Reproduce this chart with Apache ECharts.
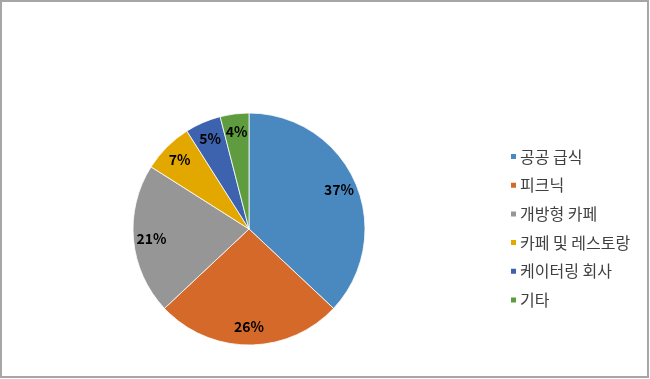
<!DOCTYPE html>
<html>
<head>
<meta charset="utf-8">
<script src="https://cdn.jsdelivr.net/npm/echarts@6/dist/echarts.min.js"></script>
<style>
html,body{margin:0;padding:0;background:#fff;}
#c{width:650px;height:379px;}
</style>
</head>
<body>
<div id="c"></div>
<script>
const categories = ['공공 급식', '피크닉', '개방형 카페', '카페 및 레스토랑', '케이터링 회사', '기타'];
const values = [37, 26, 21, 7, 5, 4];
const colors = ['#4a89c0', '#d4692a', '#969696', '#e3a800', '#3d62ae', '#5e9c3f'];

const data = categories.map((n, i) => ({ name: n, value: values[i] }));
const chart = echarts.init(document.getElementById('c'));
chart.setOption({
  animation: false,
  color: colors,
  graphic: [{
    type: 'rect',
    shape: { x: 1, y: 1, width: 647, height: 376 },
    style: { fill: 'none', stroke: '#a6a6a6', lineWidth: 2 },
    silent: true
  }],
  legend: {
    orient: 'vertical',
    left: 504,
    top: 143,
    itemWidth: 7,
    itemHeight: 7,
    itemGap: 11.7,
    icon: 'rect',
    data: categories,
    textStyle: { fontFamily: 'Noto Sans CJK KR', fontSize: 16, lineHeight: 17, color: '#404040', padding: [0, 0, 0, -2] }
  },
  series: [{
    type: 'pie',
    center: [249, 229],
    radius: [0, 116],
    startAngle: 90,
    clockwise: true,
    data: data,
    label: { show: false },
    labelLine: { show: false },
    itemStyle: { borderColor: '#fff', borderWidth: 0.8 },
    emphasis: { disabled: true },
    silent: true
  }, {
    type: 'pie',
    center: [249, 229],
    radius: [74, 116],
    startAngle: 90,
    clockwise: true,
    data: data,
    itemStyle: { color: 'rgba(0,0,0,0)' },
    label: {
      show: true,
      position: 'inside',
      formatter: '{c}%',
      fontFamily: 'Noto Sans CJK KR',
      fontWeight: 'bold',
      fontSize: 14,
      color: '#000'
    },
    labelLine: { show: false },
    emphasis: { disabled: true },
    silent: true,
    legendHoverLink: false
  }]
});
</script>
</body>
</html>
